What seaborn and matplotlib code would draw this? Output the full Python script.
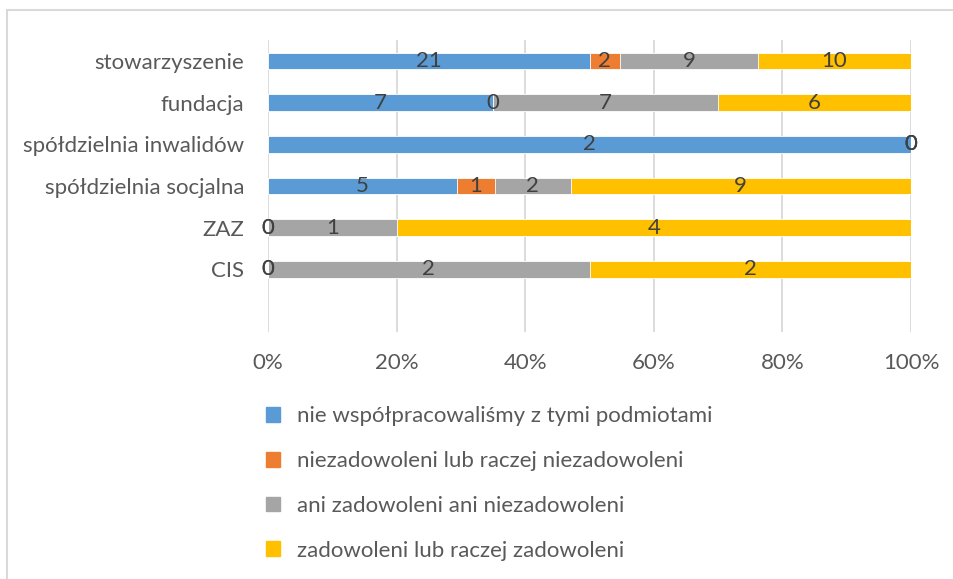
import matplotlib
matplotlib.use("Agg")
import matplotlib.pyplot as plt
import matplotlib.patches as mpatches
import seaborn as sns
import pandas as pd
import numpy as np

categories = ["stowarzyszenie", "fundacja", "spółdzielnia inwalidów",
              "spółdzielnia socjalna", "ZAZ", "CIS"]
series_names = ["nie współpracowaliśmy z tymi podmiotami",
                "niezadowoleni lub raczej niezadowoleni",
                "ani zadowoleni ani niezadowoleni",
                "zadowoleni lub raczej zadowoleni"]
nie_wspolpracowalismy = [21, 7, 2, 5, 0, 0]
niezadowoleni = [2, 0, 0, 1, 0, 0]
ani_ani = [9, 7, 0, 2, 1, 2]
zadowoleni = [10, 6, 0, 9, 4, 2]
tick_labels = ["0%", "20%", "40%", "60%", "80%", "100%"]
colors = ["#5B9BD5", "#ED7D31", "#A5A5A5", "#FFC000"]

sns.set_theme(style="white")
plt.rcParams["font.family"] = ["Lato", "DejaVu Sans"]

vals = np.array([nie_wspolpracowalismy, niezadowoleni, ani_ani, zadowoleni], dtype=float)
totals = vals.sum(axis=0)
shares = vals / totals * 100
cum = np.cumsum(shares, axis=0)

fig = plt.figure(figsize=(9.54, 5.79), dpi=100)
ax = fig.add_axes([268 / 954, 1 - 332 / 579, (911 - 268) / 954, (332 - 40) / 579])

# draw stacked bars by overlaying cumulative totals (largest first)
for i in range(3, -1, -1):
    df = pd.DataFrame({"kategoria": categories, "wartosc": cum[i]})
    sns.barplot(data=df, y="kategoria", x="wartosc", color=colors[i],
                orient="h", width=0.4, saturation=1, ax=ax,
                edgecolor="white", linewidth=0.6, zorder=3 + (3 - i))

# data labels
for j in range(len(categories)):
    for i in range(4):
        start = cum[i][j] - shares[i][j]
        center = start + shares[i][j] / 2
        ax.text(center, j, f"{int(vals[i][j])}", ha="center", va="center",
                fontsize=16, color="#404040", zorder=20)

ax.set_xlim(0, 100)
ax.set_ylim(6.5, -0.5)
ax.set_xticks([0, 20, 40, 60, 80, 100])
ax.set_xticklabels(tick_labels)
ax.xaxis.grid(True, color="#D9D9D9", linewidth=1.3, zorder=0)
ax.yaxis.grid(False)
ax.set_axisbelow(True)
for s in ax.spines.values():
    s.set_visible(False)
ax.set_xlabel("")
ax.set_ylabel("")
ax.tick_params(axis="x", colors="#595959", labelsize=16, length=0, pad=15)
ax.tick_params(axis="y", colors="#595959", labelsize=16, length=0, pad=17)

# legend
handles = [mpatches.Patch(color=c, label=n) for c, n in zip(colors, series_names)]
fig.legend(handles=handles, loc="upper left", bbox_to_anchor=(266 / 954, 1 - 406 / 579),
           frameon=False, fontsize=16, handlelength=0.65, handleheight=0.65,
           handletextpad=0.75, labelspacing=1.12, borderpad=0, borderaxespad=0,
           labelcolor="#595959")

# chart border
fig.patches.append(mpatches.Rectangle((7 / 954, -0.1), 1.2, 1 - 10 / 579 + 0.1,
                                      transform=fig.transFigure, fill=False,
                                      edgecolor="#D9D9D9", linewidth=1.5))

fig.savefig("out.png", dpi=100)
